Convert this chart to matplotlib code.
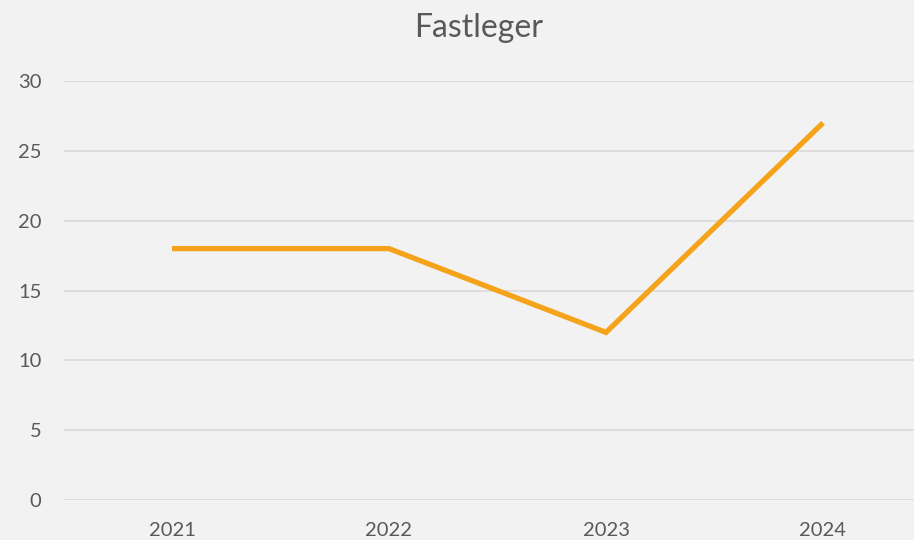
import matplotlib.pyplot as plt

years = ['2021', '2022', '2023', '2024']
fastleger = [18, 18, 12, 27]

plt.rcParams['font.family'] = ['Lato', 'DejaVu Sans']
txt = '#595959'

fig = plt.figure(figsize=(9.14, 5.40), dpi=100, facecolor='#F2F2F2')
ax = fig.add_axes([63.5 / 914, 40 / 540, 868 / 914, 419 / 540])
ax.set_facecolor('#F2F2F2')

ax.plot(range(len(years)), fastleger, color='#F5A31A', linewidth=3.8,
        solid_capstyle='butt', solid_joinstyle='miter')

ax.set_xlim(-0.5, len(years) - 0.5)
ax.set_ylim(0, 30)
ax.set_yticks(range(0, 31, 5))
ax.set_xticks(range(len(years)))
ax.set_xticklabels(years)
ax.grid(axis='y', color='#D9D9D9', linewidth=1.2)
ax.set_axisbelow(True)
for s in ax.spines.values():
    s.set_visible(False)
ax.tick_params(length=0, labelsize=14.5, colors=txt)
ax.tick_params(axis='y', pad=16)
ax.tick_params(axis='x', pad=16)

fig.text(0.524, 0.948, 'Fastleger', ha='center', va='center', fontsize=23, color=txt)

fig.savefig('out.png', dpi=100, facecolor=fig.get_facecolor())
